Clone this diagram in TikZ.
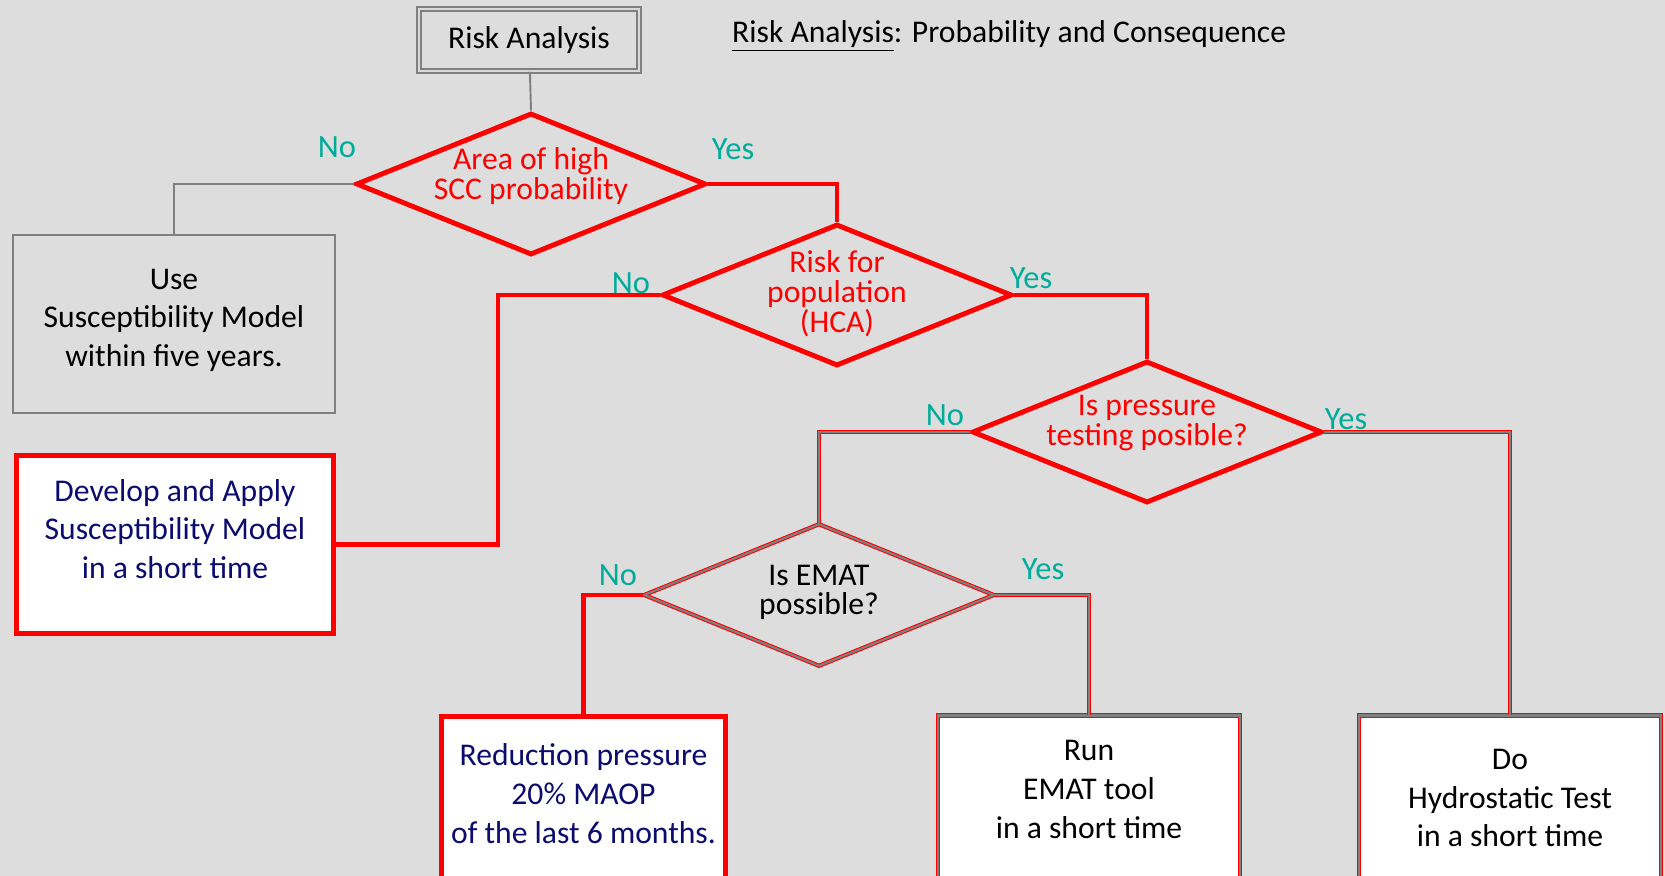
\documentclass[tikz,border=0pt]{standalone}
\usepackage{fontspec}
\setmainfont{Carlito}
\usepackage{xcolor}
\usepackage{tikz}
\usetikzlibrary{shapes.geometric, arrows.meta, positioning, calc}

\definecolor{slidebg}{RGB}{221,221,221}
\definecolor{answer}{RGB}{0,172,156}
\definecolor{navytext}{RGB}{12,12,110}

\begin{document}
\begin{tikzpicture}[
  x=0.2mm, y=-0.2mm,
  every node/.style={font=\fontsize{18}{22}\selectfont},
  decision/.style={diamond, draw=red, line width=2.8pt, fill=slidebg, aspect=2.4, inner sep=0pt, minimum width=7.0cm, minimum height=2.84cm},
  softdecision/.style={decision, line width=0.6pt, double=gray, double distance=1.2pt},
  question/.style={align=center, text=red},
  startbox/.style={draw=gray, line width=1pt, double=gray!30, double distance=1.5pt, fill=slidebg, minimum width=4.4cm, minimum height=1.24cm},
  graybox/.style={draw=gray, line width=1.1pt, fill=slidebg, minimum width=6.44cm, minimum height=3.56cm, align=center},
  actbox/.style={draw=red, line width=2.6pt, fill=white, align=center, text=navytext},
  dblbox/.style={draw=red, line width=0.6pt, double=gray, double distance=1.2pt, fill=white, align=center, minimum width=6.04cm, minimum height=3.3cm},
  answerlbl/.style={text=answer, font=\fontsize{18.5}{22}\selectfont},
  redline/.style={draw=red, line width=2.6pt},
  grayline/.style={draw=gray, line width=1.1pt},
  dblline/.style={draw=red, line width=0.6pt, double=gray, double distance=1.2pt}
]

\useasboundingbox (0,0) rectangle (1665,876);
\fill[slidebg] (0,0) rectangle (1665,876);

\node[startbox] (risk) at (529,40) {Risk Analysis};
\node[anchor=west] (title) at (726,36) {\underline{Risk Analysis}: Probability and Consequence};

\node[decision] (highscc) at (531,184) {};
\node[decision] (population) at (837,295) {};
\node[decision] (pressure) at (1147,432) {};
\node[softdecision] (emat) at (819,595) {};

\node[question, font=\fontsize{18}{17.5}\selectfont] (scctext) at (531,176) {Area of high\\SCC probability};
\node[question, font=\fontsize{18}{17}\selectfont] (poptext) at (837,294) {Risk for\\population\\(HCA)};
\node[question, font=\fontsize{18}{16.8}\selectfont] (presstext) at (1147,423) {Is pressure\\testing posible?};
\node[question, text=black, font=\fontsize{18}{16.5}\selectfont] (ematext) at (819,592) {Is EMAT\\possible?};

\node[graybox, text depth=7pt] (usemodel) at (174,324) {Use\\Susceptibility Model\\within five years.};
\node[actbox, text depth=18pt, minimum width=6.35cm, minimum height=3.57cm] (develop) at (175,544.5) {Develop and Apply\\Susceptibility Model\\in a short time};
\node[actbox, text depth=6pt, anchor=north, minimum width=5.69cm, minimum height=3.3cm] (reduce) at (583.5,714) {Reduction pressure\\20\% MAOP\\of the last 6 months.};
\node[dblbox, text depth=10pt, anchor=north] (runemat) at (1089,715) {Run\\EMAT tool\\in a short time};
\node[dblbox, anchor=north] (hydro) at (1510,715) {Do\\Hydrostatic Test\\in a short time};

\coordinate (bend) at (498,544.5);

\draw[grayline] (risk) -- (highscc.north);
\draw[grayline] (highscc.west) -| (usemodel.north);
\draw[redline] (highscc.east) -| (population.north);
\draw[redline] (population.west) -| (bend) -- (develop.east);
\draw[redline] (population.east) -| (pressure.north);
\draw[dblline] (pressure.west) -| (emat.north);
\draw[dblline] (pressure.east) -| (hydro.north);
\draw[redline] (emat.west) -| (reduce.north);
\draw[dblline] (emat.east) -| (runemat.north);

\node[answerlbl] (noscc) at (337,147) {No};
\node[answerlbl] (yesscc) at (733,149) {Yes};
\node[answerlbl] (nopop) at (631,283) {No};
\node[answerlbl] (yespop) at (1031,278) {Yes};
\node[answerlbl] (nopress) at (945,415) {No};
\node[answerlbl] (yespress) at (1346,419) {Yes};
\node[answerlbl] (noemat) at (618,575) {No};
\node[answerlbl] (yesemat) at (1043,569) {Yes};

\end{tikzpicture}
\end{document}
